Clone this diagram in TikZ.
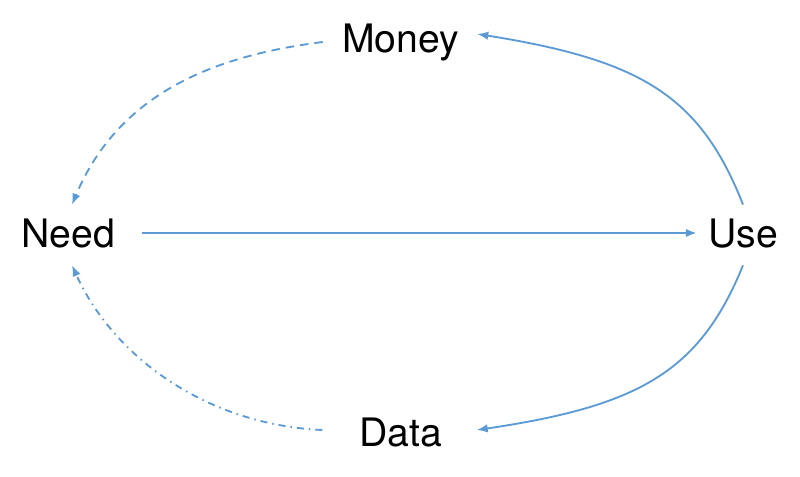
\documentclass[tikz,border=0pt]{standalone}
\usepackage{fontspec}
\setmainfont{TeX Gyre Heros}
\usetikzlibrary{arrows.meta}
\definecolor{flowblue}{RGB}{91,155,213}
\begin{document}
\begin{tikzpicture}
\tikzstyle{every node}+=[inner sep=0pt,text height=0.6cm,text depth=0pt,anchor=base,font=\fontsize{22.3}{27}\selectfont]
\tikzstyle{flow}=[flowblue,line width=1.05pt,-{Latex[length=0.22cm,width=0.17cm]}]
\useasboundingbox (0,0) rectangle (16,9.54);
\node (money) at (8.01,8.48) {Money};
\node (need) at (1.36,4.58) {Need};
\node (use) at (14.86,4.58) {Use};
\node (data) at (8.02,0.6) {Data};
\draw [flow,line width=1.6pt] ([xshift=0.54cm]need.east) -- ([xshift=-0.22cm]use.west);
\draw [flow] ([yshift=0.26cm]use.north) .. controls (14.0,7.64) and (12.8,8.34) .. ([xshift=0.36cm,yshift=0.08cm]money.east);
\draw [flow] ([yshift=-0.34cm]use.south) .. controls (14.0,2.12) and (12.8,1.42) .. ([xshift=0.68cm,yshift=0.04cm]data.east);
\draw [flow,dash pattern=on 0.17cm off 0.12cm] ([xshift=-0.38cm,yshift=-0.08cm]money.west) .. controls (4.4,8.44) and (2.4,7.74) .. ([xshift=0.08cm,yshift=0.26cm]need.north);
\draw [flow,dash pattern=on 0.14cm off 0.1cm on 0.03cm off 0.1cm] ([xshift=-0.74cm,yshift=0.04cm]data.west) .. controls (4.2,1.04) and (2.3,2.34) .. ([xshift=0.08cm,yshift=-0.34cm]need.south);
\end{tikzpicture}
\end{document}
